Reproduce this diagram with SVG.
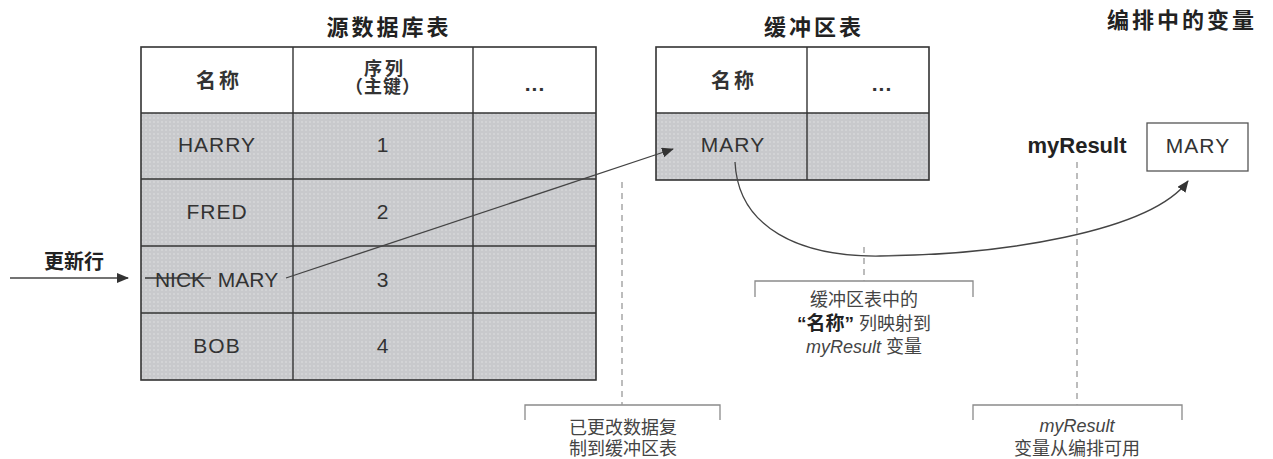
<svg xmlns="http://www.w3.org/2000/svg" width="1273" height="459" viewBox="0 0 1273 459">
<style>
text{font-family:"Liberation Sans","Noto Sans CJK SC",sans-serif;fill:#333;}
.title{font-size:22px;font-weight:bold;text-anchor:middle;letter-spacing:3px;fill:#222;}
.hdr{font-size:20px;font-weight:bold;text-anchor:middle;letter-spacing:3px;fill:#333;}
.cell{font-size:21px;text-anchor:middle;letter-spacing:1px;fill:#333;}
.note{font-size:18px;text-anchor:middle;fill:#444;}
.border{fill:none;stroke:#333;stroke-width:1.6;}
.grid{stroke:#333;stroke-width:1.4;}
.dash{stroke:#999;stroke-width:1.3;stroke-dasharray:6 5;fill:none;}
.bracket{stroke:#8a8a8a;stroke-width:1.3;fill:none;}
.conn{stroke:#444;stroke-width:1.3;fill:none;}
</style>
<defs>
<pattern id="dots" width="4" height="4" patternUnits="userSpaceOnUse">
<rect width="4" height="4" fill="#c8c9cc"/>
<circle cx="2" cy="2" r="0.7" fill="#e4e5e7"/>
</pattern>
<marker id="arr" markerWidth="12" markerHeight="10" refX="11" refY="5" orient="auto" markerUnits="userSpaceOnUse">
<path d="M0,0 L12,5 L0,10 Z" fill="#333"/>
</marker>
</defs>

<g id="source-table">
<text class="title" x="389" y="35">源数据库表</text>
<rect x="141" y="47" width="455" height="66" fill="#fff"/>
<rect x="141" y="113" width="455" height="267" fill="url(#dots)"/>
<rect class="border" x="141" y="47" width="455" height="333"/>
<line class="grid" x1="293" y1="47" x2="293" y2="380"/>
<line class="grid" x1="473" y1="47" x2="473" y2="380"/>
<line class="grid" x1="141" y1="113" x2="596" y2="113"/>
<line class="grid" x1="141" y1="179" x2="596" y2="179"/>
<line class="grid" x1="141" y1="246" x2="596" y2="246"/>
<line class="grid" x1="141" y1="313" x2="596" y2="313"/>
<text class="hdr" x="219" y="88">名称</text>
<text class="hdr" x="385" y="75" style="font-size:18px">序列</text>
<text class="hdr" x="383" y="93" style="font-size:18px;letter-spacing:1px">（主键）</text>
<text class="hdr" x="535" y="91" style="font-size:21px;letter-spacing:1px">...</text>
<text class="cell" x="217" y="152">HARRY</text>
<text class="cell" x="383" y="152">1</text>
<text class="cell" x="217" y="219">FRED</text>
<text class="cell" x="383" y="219">2</text>
<text class="cell" x="180" y="287" style="letter-spacing:0">NICK</text>
<line x1="145" y1="278" x2="211" y2="278" stroke="#333" stroke-width="1.6"/>
<text class="cell" x="248" y="287" style="letter-spacing:0">MARY</text>
<text class="cell" x="383" y="287">3</text>
<text class="cell" x="217" y="353">BOB</text>
<text class="cell" x="383" y="353">4</text>
</g>

<g id="buffer-table">
<text class="title" x="814" y="35">缓冲区表</text>
<rect x="656" y="47" width="273" height="66" fill="#fff"/>
<rect x="656" y="113" width="273" height="67" fill="url(#dots)"/>
<rect class="border" x="656" y="47" width="273" height="133"/>
<line class="grid" x1="807" y1="47" x2="807" y2="180"/>
<line class="grid" x1="656" y1="113" x2="929" y2="113"/>
<text class="hdr" x="734" y="88">名称</text>
<text class="hdr" x="882" y="91" style="font-size:21px;letter-spacing:1px">...</text>
<text class="cell" x="733" y="152">MARY</text>
</g>

<g id="variable">
<text class="title" x="1182" y="28">编排中的变量</text>
<text x="1077" y="153" style="font-size:22px;font-weight:bold;text-anchor:middle;fill:#222">myResult</text>
<rect x="1147" y="123" width="101" height="48" fill="#fff" stroke="#555" stroke-width="1.3"/>
<text class="cell" x="1198" y="153">MARY</text>
</g>

<g id="update-label">
<text x="74" y="269" style="font-size:20px;font-weight:bold;text-anchor:middle;fill:#222">更新行</text>
</g>

<g id="note-copy">
<path class="bracket" d="M525,420 V405 H720 V420"/>
<text class="note" x="623" y="434">已更改数据复</text>
<text class="note" x="623" y="455">制到缓冲区表</text>
</g>

<g id="note-map">
<path class="bracket" d="M755,297 V281 H973 V297"/>
<text class="note" x="864" y="306">缓冲区表中的</text>
<text class="note" x="864" y="330"><tspan style="font-weight:bold;font-size:19px;fill:#222">“名称”</tspan> 列映射到</text>
<text class="note" x="864" y="353"><tspan font-style="italic">myResult</tspan> 变量</text>
</g>

<g id="note-available">
<path class="bracket" d="M973,420 V405 H1182 V420"/>
<text class="note" x="1077" y="432" font-style="italic">myResult</text>
<text class="note" x="1077" y="455">变量从编排可用</text>
</g>

<g id="connectors">
<line class="conn" x1="10" y1="278" x2="128" y2="278" marker-end="url(#arr)"/>
<line class="conn" x1="286" y1="278" x2="673" y2="149" marker-end="url(#arr)"/>
<path class="conn" d="M735,162 C738,228 800,257 880,256 C1000,255 1150,232 1188,181" marker-end="url(#arr)"/>
<line class="dash" x1="622" y1="182" x2="622" y2="405"/>
<line class="dash" x1="864" y1="247" x2="864" y2="281"/>
<line class="dash" x1="1077" y1="162" x2="1077" y2="405"/>
</g>
</svg>
